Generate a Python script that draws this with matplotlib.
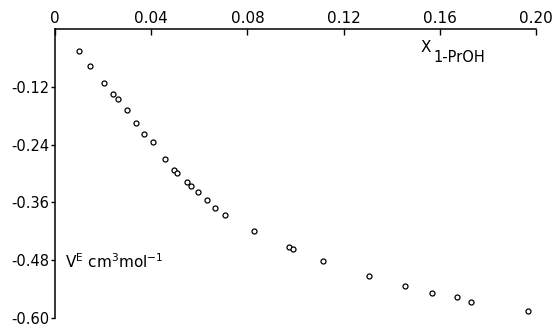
import matplotlib
matplotlib.use("Agg")
import matplotlib.pyplot as plt

# mole fraction of 1-propanol and excess molar volume (cm3/mol)
x_prop = [0.0099, 0.0147, 0.0205, 0.0243, 0.0263, 0.0298, 0.0337, 0.0370,
          0.0407, 0.0459, 0.0496, 0.0506, 0.0548, 0.0564, 0.0595, 0.0631,
          0.0665, 0.0708, 0.0829, 0.0973, 0.0990, 0.1114, 0.1306, 0.1457,
          0.1568, 0.1670, 0.1730, 0.1965]
v_excess = [-0.046, -0.076, -0.112, -0.134, -0.146, -0.168, -0.195, -0.217,
            -0.234, -0.269, -0.292, -0.298, -0.317, -0.326, -0.339, -0.355,
            -0.371, -0.387, -0.420, -0.453, -0.456, -0.481, -0.512, -0.534,
            -0.548, -0.556, -0.567, -0.586]

x_ticks = [0, 0.04, 0.08, 0.12, 0.16, 0.20]
x_labels = ["0", "0.04", "0.08", "0.12", "0.16", "0.20"]
y_ticks = [-0.12, -0.24, -0.36, -0.48, -0.60]
y_labels = ["-0.12", "-0.24", "-0.36", "-0.48", "-0.60"]

plt.rcParams["font.family"] = ["DejaVu Sans"]

fig = plt.figure(figsize=(5.57, 3.26), dpi=100)
# axes from x=55..536 px, y=29..318 px
ax = fig.add_axes([55 / 557, 1 - 318 / 326, 481 / 557, 289 / 326])

ax.plot(x_prop, v_excess, linestyle="none", marker="o", markersize=3.6,
        markerfacecolor="white", markeredgecolor="black", markeredgewidth=0.9)

ax.set_xlim(0, 0.20)
ax.set_ylim(-0.60, 0)

ax.spines["right"].set_visible(False)
ax.spines["bottom"].set_visible(False)
ax.spines["top"].set_linewidth(1.1)
ax.spines["left"].set_linewidth(1.1)

ax.xaxis.tick_top()
ax.set_xticks(x_ticks)
ax.set_xticklabels(x_labels)
ax.tick_params(axis="x", direction="in", length=4, width=1, pad=2, labelsize=11)
ax.set_yticks(y_ticks)
ax.set_yticklabels(y_labels)
ax.tick_params(axis="y", direction="out", length=3, width=1, pad=1, labelsize=10.5)

# axis titles placed inside the plot like the original figure
ax.text((421 - 55) / 481, 1 - (47 - 29) / 289, "X",
        transform=ax.transAxes, fontsize=11, va="center", ha="left")
ax.text((433 - 55) / 481, 1 - (58 - 29) / 289, "1-PrOH",
        transform=ax.transAxes, fontsize=10.5, va="center", ha="left")
ax.text((65 - 55) / 481, 1 - (262 - 29) / 289,
        "V$^{\\mathregular{E}}$ cm$^{\\mathregular{3}}$mol$^{\\mathregular{-1}}$",
        transform=ax.transAxes, fontsize=11, va="center", ha="left")

fig.savefig("out.png", dpi=100)
